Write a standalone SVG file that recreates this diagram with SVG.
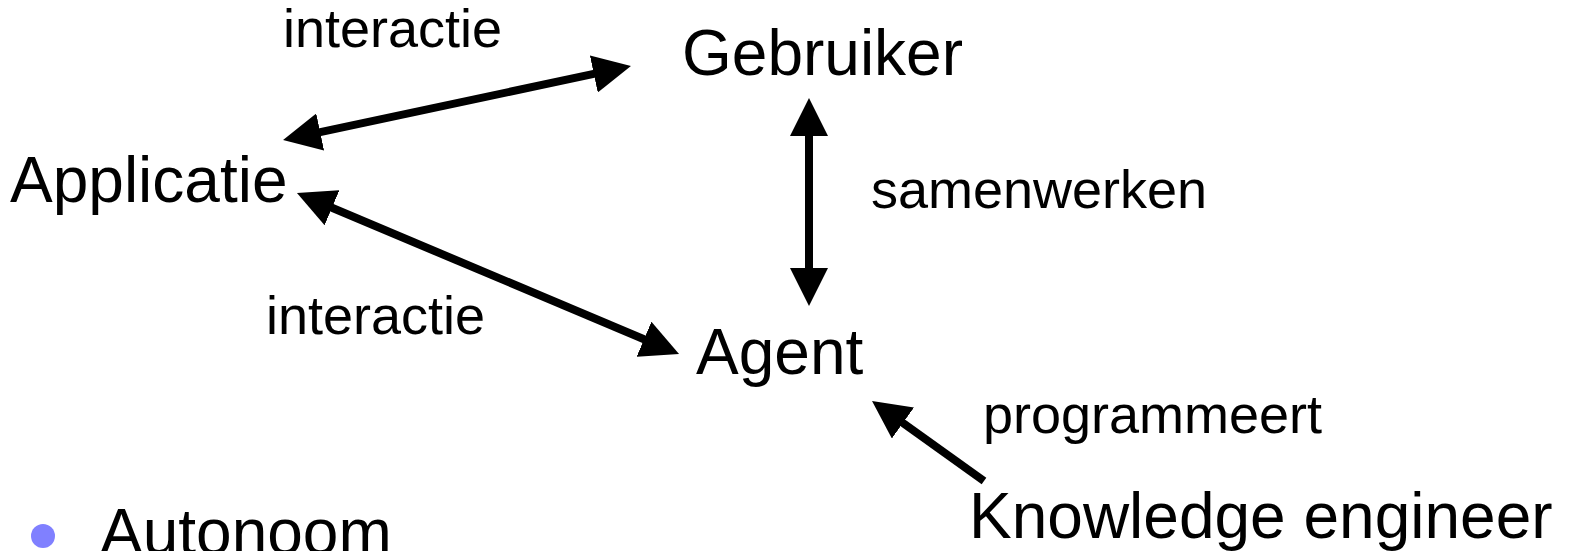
<svg xmlns="http://www.w3.org/2000/svg" width="1574" height="551" viewBox="0 0 1574 551">
<style>
text{font-family:"Liberation Sans",Arial,sans-serif;fill:#000}
.big{font-size:64px}
.lbl{font-size:54px}
.conn line{stroke:#000;stroke-width:8}
</style>
<defs>
<marker id="ah" markerUnits="userSpaceOnUse" markerWidth="38" markerHeight="38" refX="18" refY="19" orient="auto-start-reverse" viewBox="0 0 38 38">
<path d="M0,0 L38,19 L0,38 z" fill="#000"/>
</marker>
</defs>
<rect width="1574" height="551" fill="#fff"/>
<g id="conn" class="conn">
<line x1="302.6" y1="135.8" x2="611.4" y2="70.2" marker-start="url(#ah)" marker-end="url(#ah)"/>
<line x1="315.4" y1="200.8" x2="660.6" y2="346.2" marker-start="url(#ah)" marker-end="url(#ah)"/>
<line x1="809" y1="118" x2="809" y2="286" marker-start="url(#ah)" marker-end="url(#ah)"/>
<line x1="984" y1="481" x2="888.3" y2="412.6" marker-end="url(#ah)"/>
</g>
<g id="label-interactie1"><text class="lbl" x="283" y="47">interactie</text></g>
<g id="label-interactie2"><text class="lbl" x="266" y="334">interactie</text></g>
<g id="label-samenwerken"><text class="lbl" x="871" y="208">samenwerken</text></g>
<g id="label-programmeert"><text class="lbl" x="983" y="433">programmeert</text></g>
<g id="node-gebruiker"><text class="big" x="682" y="75">Gebruiker</text></g>
<g id="node-applicatie"><text class="big" x="10" y="202">Applicatie</text></g>
<g id="node-agent"><text class="big" x="696" y="374">Agent</text></g>
<g id="node-knowledge"><text class="big" x="969" y="538">Knowledge engineer</text></g>
<g id="bullet-autonoom">
<circle cx="43" cy="536" r="12" fill="#8080ff"/>
<text class="big" x="100" y="554">Autonoom</text>
</g>
</svg>
